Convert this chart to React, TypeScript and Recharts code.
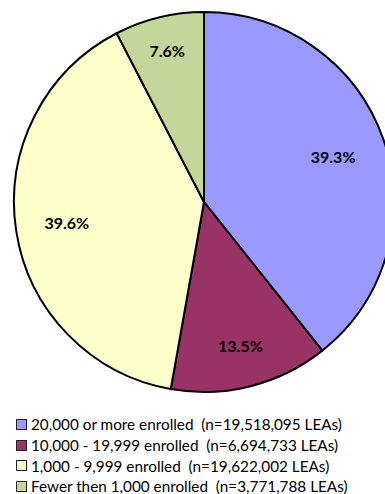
import React from "react";
import { PieChart, Pie, Cell, Legend } from "recharts";

const categories = [
  "20,000 or more enrolled  (n=19,518,095 LEAs)",
  "10,000 - 19,999 enrolled  (n=6,694,733 LEAs)",
  "1,000 - 9,999 enrolled  (n=19,622,002 LEAs)",
  "Fewer then 1,000 enrolled  (n=3,771,788 LEAs)",
];
const shares = [39.3, 13.5, 39.6, 7.6];
const labels = ["39.3%", "13.5%", "39.6%", "7.6%"];
const colors = ["#9999FF", "#993366", "#FFFFCC", "#C4D79B"];
const labelRadiusFactor = [0.72, 0.78, 0.73, 0.82];

const data = categories.map((name, i) => ({ name, value: shares[i], label: labels[i] }));

const RAD = Math.PI / 180;

const renderLabel = (props: any) => {
  const { cx, cy, midAngle, outerRadius, index } = props;
  const r = outerRadius * labelRadiusFactor[index];
  const x = cx + r * Math.cos(-midAngle * RAD);
  const y = cy + r * Math.sin(-midAngle * RAD);
  return (
    <text
      x={x}
      y={y}
      textAnchor="middle"
      dominantBaseline="central"
      fontFamily="Lato, sans-serif"
      fontWeight="bold"
      fontSize={16}
      fill="#000"
    >
      {data[index].label}
    </text>
  );
};

const renderLegend = () => (
  <div style={{ fontFamily: "Lato, sans-serif", fontSize: 15.3, color: "#000" }}>
    {data.map((d, i) => (
      <div
        key={d.name}
        style={{ display: "flex", alignItems: "center", height: 20.7, whiteSpace: "pre" }}
      >
        <span
          style={{
            display: "inline-block",
            width: 9,
            height: 9,
            background: colors[i],
            border: "1.5px solid #222",
            marginRight: 4,
          }}
        />
        <span>{d.name}</span>
      </div>
    ))}
  </div>
);

export default function App() {
  return (
    <div style={{ position: "absolute", left: 0, top: 0, width: 385, height: 494, background: "#fff" }}>
      <PieChart width={385} height={494} margin={{ top: 0, right: 0, bottom: 0, left: 0 }}>
        <Pie
          data={data}
          dataKey="value"
          cx={204}
          cy={202}
          outerRadius={190}
          startAngle={90}
          endAngle={-270}
          stroke="#000"
          strokeWidth={2}
          label={renderLabel}
          labelLine={false}
          isAnimationActive={false}
        >
          {data.map((d, i) => (
            <Cell key={d.name} fill={colors[i]} />
          ))}
        </Pie>
        <Legend
          content={renderLegend}
          wrapperStyle={{ position: "absolute", top: 414, left: 16, width: 369 }}
        />
      </PieChart>
    </div>
  );
}
